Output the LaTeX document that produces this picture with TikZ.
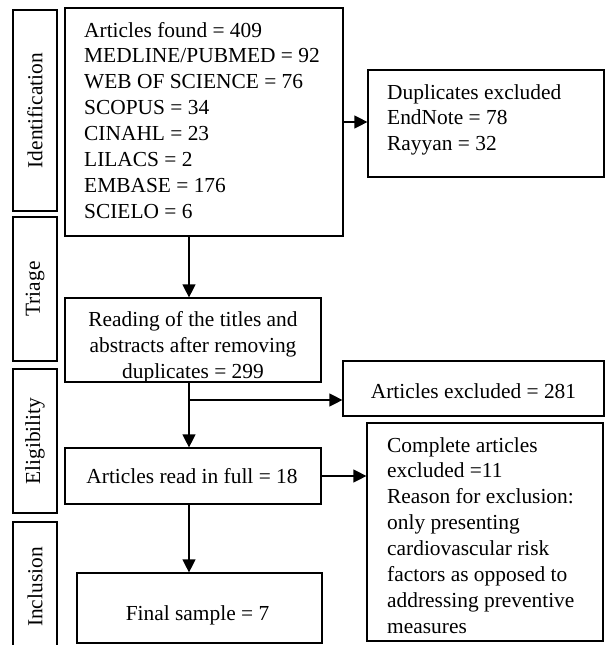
\documentclass[tikz,border=0pt]{standalone}
\usepackage{fontspec}
\setmainfont{Liberation Serif}
\usetikzlibrary{arrows.meta}
\begin{document}
\begin{tikzpicture}[x=1pt,y=-1pt,
  frame/.style={draw, line width=1.2pt, inner sep=0pt},
  txt/.style={inner sep=0pt, font=\fontsize{21.4}{25.9}\selectfont},
  side/.style={txt, rotate=90},
  arr/.style={line width=1.2pt, -{Triangle[length=13pt,width=13pt]}},
  lin/.style={line width=1.2pt}]
\useasboundingbox (0,0) rectangle (605,645);
\clip (0,0) rectangle (605,645);
% stage boxes
\node[frame, minimum width=44pt, minimum height=201pt] (id) at (35,110.5) {};
\node[frame, minimum width=44pt, minimum height=144pt] (tri) at (35,289) {};
\node[frame, minimum width=44pt, minimum height=144pt] (eli) at (35,441) {};
\node[frame, minimum width=44pt, minimum height=130pt] (inc) at (35,587) {};
\node[side] (idl) at (id.center) {Identification};
\node[side] (tril) at (tri.center) {Triage};
\node[side] (elil) at (eli.center) {Eligibility};
\node[side] (incl) at (inc.center) {Inclusion};
% flow boxes
\node[frame, minimum width=278pt, minimum height=228pt] (b1) at (204,122) {};
\node[frame, minimum width=236pt, minimum height=107pt] (dup) at (486,123.5) {};
\node[frame, minimum width=256pt, minimum height=84pt] (b2) at (193,340) {};
\node[frame, minimum width=261pt, minimum height=55pt] (exc) at (473.5,388.5) {};
\node[frame, minimum width=256pt, minimum height=56pt] (b3) at (193,476) {};
\node[frame, minimum width=236pt, minimum height=218pt] (comp) at (485,532) {};
\node[frame, minimum width=245pt, minimum height=70pt] (fin) at (199.5,608) {};
% texts (base anchor = baseline of last line)
\node[txt, align=left, anchor=base west] (t1) at (84,218.3) {Articles found = 409\\MEDLINE/PUBMED = 92\\WEB OF SCIENCE = 76\\SCOPUS = 34\\CINAHL = 23\\LILACS = 2\\EMBASE = 176\\SCIELO = 6};
\node[txt, align=left, anchor=base west] (tdup) at (387,150.8) {Duplicates excluded\\EndNote = 78\\Rayyan = 32};
\node[txt, align=center, anchor=base] (t2) at (193,378.5) {Reading of the titles and\\abstracts after removing\\duplicates = 299};
\node[txt, anchor=base] (texc) at (473.5,398) {Articles excluded = 281};
\node[txt, anchor=base] (t3) at (192,483) {Articles read in full = 18};
\node[txt, align=left, anchor=base west] (tcomp) at (387,633.3) {Complete articles\\excluded =11\\Reason for exclusion:\\only presenting\\cardiovascular risk\\factors as opposed to\\addressing preventive\\measures};
\node[txt, anchor=base] (tfin) at (197.5,620) {Final sample = 7};
% connectors
\coordinate (sx) at (189,0);
\coordinate (br) at (189,400);
\draw[arr] (b1.south -| sx) -- (b2.north -| sx);
\draw[arr] (b1.east) -- (b1.east -| dup.west);
\draw[arr] (b2.south -| sx) -- (b3.north -| sx);
\draw[arr] (br) -- (br -| exc.west);
\draw[arr] (b3.east) -- (b3.east -| comp.west);
\draw[arr] (b3.south -| sx) -- (fin.north -| sx);
\end{tikzpicture}
\end{document}
